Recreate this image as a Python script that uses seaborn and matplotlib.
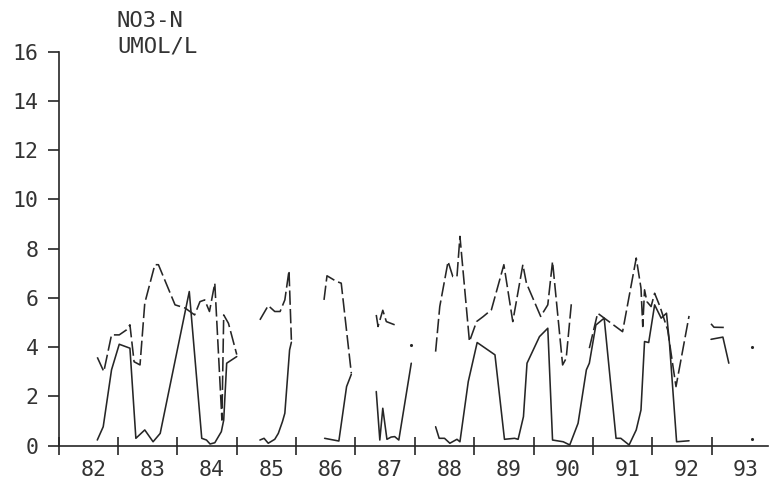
import numpy as np
import pandas as pd
import matplotlib
matplotlib.use("Agg")
import matplotlib.pyplot as plt
import seaborn as sns

nan = np.nan

# Nitrate, solid curve (NaN marks a break in sampling)
solid_year = [
    1982.65, 1982.75, 1982.89, 1983.02, 1983.20, 1983.30, 1983.45, 1983.59, 1983.71,
    1984.20, 1984.41, 1984.49, 1984.55, 1984.63, 1984.74, 1984.78, 1984.83, 1985.00, nan,
    1985.39, 1985.46, 1985.53, 1985.64, 1985.70, 1985.77, 1985.81, 1985.89, 1985.92, nan,
    1986.48, 1986.72, 1986.85, 1986.93, nan,
    1987.35, 1987.41, 1987.46, 1987.53, 1987.60, 1987.66, 1987.73, 1987.94, nan,
    1988.35, 1988.41, 1988.50, 1988.59, 1988.71, 1988.76, 1988.90, 1989.05, 1989.35,
    1989.51, 1989.68, 1989.74, 1989.83, 1989.89, 1990.10, 1990.24, 1990.32, 1990.50,
    1990.61, 1990.75, 1990.89, 1990.94, 1991.05, 1991.19, 1991.39, 1991.47, 1991.61,
    1991.73, 1991.81, 1991.87, 1991.94, 1992.04, 1992.15, 1992.24, 1992.29, 1992.41,
    1992.62, nan,
    1992.99, 1993.19, 1993.29, nan,
    1993.68,
]
solid_no3 = [
    0.23, 0.77, 3.08, 4.12, 3.96, 0.30, 0.64, 0.16, 0.50,
    6.26, 0.30, 0.23, 0.07, 0.12, 0.57, 1.04, 3.35, 3.62, nan,
    0.23, 0.30, 0.10, 0.26, 0.50, 0.98, 1.32, 3.89, 4.20, nan,
    0.30, 0.19, 2.40, 2.90, nan,
    2.20, 0.23, 1.52, 0.26, 0.35, 0.37, 0.23, 3.35, nan,
    0.77, 0.30, 0.30, 0.10, 0.26, 0.16, 2.60, 4.19, 3.69,
    0.26, 0.30, 0.26, 1.18, 3.35, 4.43, 4.77, 0.23, 0.16,
    0.03, 0.91, 3.08, 3.35, 4.90, 5.18, 0.30, 0.30, 0.03,
    0.64, 1.45, 4.23, 4.19, 5.72, 5.18, 5.38, 4.16, 0.16,
    0.20, nan,
    4.32, 4.41, 3.35, nan,
    0.26,
]

# Nitrate, dashed curve
dashed_year = [
    1982.65, 1982.76, 1982.89, 1983.02, 1983.14, 1983.20, 1983.27, 1983.37, 1983.45,
    1983.62, 1983.68, 1983.96, 1984.13, 1984.29, 1984.38, 1984.46, 1984.54, 1984.63,
    1984.75, 1984.78, 1984.86, 1985.00, nan,
    1985.39, 1985.53, 1985.64, 1985.73, 1985.81, 1985.88, 1985.92, nan,
    1986.47, 1986.52, 1986.68, 1986.76, 1986.93, nan,
    1987.35, 1987.38, 1987.46, 1987.52, 1987.66, nan,
    1987.93, nan,
    1988.35, 1988.42, 1988.56, 1988.64, 1988.71, 1988.76, 1988.92, 1989.04, 1989.15,
    1989.29, 1989.50, 1989.65, 1989.82, 1989.88, 1990.12, 1990.24, 1990.32, 1990.49,
    1990.55, 1990.64, nan,
    1990.94, 1991.08, 1991.50, 1991.73, 1991.81, 1991.84, 1991.87, 1991.91, 1991.98,
    1992.04, 1992.13, 1992.26, 1992.35, 1992.40, 1992.62, nan,
    1992.99, 1993.04, 1993.27, nan,
    1993.68,
]
dashed_no3 = [
    3.59, 3.01, 4.50, 4.50, 4.70, 4.91, 3.41, 3.28, 5.79,
    7.35, 7.35, 5.72, 5.59, 5.31, 5.85, 5.92, 5.45, 6.60,
    1.04, 5.31, 4.97, 3.70, nan,
    5.11, 5.69, 5.45, 5.45, 5.92, 7.11, 4.30, nan,
    5.92, 6.90, 6.67, 6.60, 2.94, nan,
    5.31, 4.84, 5.50, 5.04, 4.91, nan,
    4.09, nan,
    3.82, 5.65, 7.48, 6.87, 6.87, 8.50, 4.23, 5.04, 5.24,
    5.52, 7.35, 5.04, 7.35, 6.60, 5.25, 5.72, 7.48, 3.28,
    3.55, 5.85, nan,
    3.96, 5.38, 4.63, 7.62, 6.40, 4.84, 6.33, 5.85, 5.65,
    6.19, 5.65, 4.70, 3.21, 2.40, 5.27, nan,
    4.95, 4.81, 4.80, nan,
    4.00,
]

year_labels = ["82", "83", "84", "85", "86", "87", "88", "89", "90", "91", "92", "93"]
y_ticks = [0, 2, 4, 6, 8, 10, 12, 14, 16]
title_lines = ["NO3-N", "UMOL/L"]


def to_frame(years, values, name):
    df = pd.DataFrame({"year": years, "no3": values})
    gap = df["no3"].isna()
    df["seg"] = gap.cumsum()
    df = df[~gap].copy()
    df["series"] = name
    return df


frames = pd.concat([to_frame(solid_year, solid_no3, "solid"),
                    to_frame(dashed_year, dashed_no3, "dashed")], ignore_index=True)
seg_size = frames.groupby(["series", "seg"])["year"].transform("size")
lines = frames[seg_size > 1]
points = frames[seg_size == 1]

sns.set_style("white")
plt.rcParams["font.family"] = ["DejaVu Sans Mono", "DejaVu Sans"]
ink = "#262626"
text_ink = "#333333"

fig = plt.figure(figsize=(7.7, 4.8), dpi=100)
ax = fig.add_axes([58.7 / 770, 34.3 / 480, (768 - 58.7) / 770, (445.7 - 51.7) / 480])

sns.lineplot(data=lines, x="year", y="no3", units="seg", estimator=None,
             style="series", dashes={"solid": "", "dashed": (9, 2.6)},
             color=ink, linewidth=1.15, sort=False, legend=False, ax=ax)
sns.scatterplot(data=points, x="year", y="no3", color=ink, s=5,
                linewidth=0, legend=False, ax=ax)

ax.set_xlim(1982, 1993.95)
ax.set_ylim(0, 16)
ax.set_xlabel("")
ax.set_ylabel("")

for side in ("top", "right"):
    ax.spines[side].set_visible(False)
for side in ("left", "bottom"):
    ax.spines[side].set_color(ink)
    ax.spines[side].set_linewidth(1.2)

years = list(range(1982, 1994))
ax.set_xticks(years)
ax.set_xticklabels([])
ax.set_xticks([y + 0.58 for y in years], minor=True)
ax.set_xticklabels(year_labels, minor=True)
ax.tick_params(axis="x", which="major", bottom=True, direction="inout", length=13,
               width=1.2, color=ink)
ax.tick_params(axis="x", which="minor", bottom=True, length=0, pad=10,
               labelsize=15.5, labelcolor=text_ink)

ax.set_yticks(y_ticks)
ax.set_yticklabels([str(v) for v in y_ticks])
ax.tick_params(axis="y", left=True, direction="out", length=8, width=1.2, color=ink,
               pad=6.5, labelsize=15.5, labelcolor=text_ink)

fig.text(117 / 770, 1 - 27 / 480, title_lines[0], fontsize=16, color=text_ink,
         va="baseline", ha="left")
fig.text(117 / 770, 1 - 53 / 480, title_lines[1], fontsize=16, color=text_ink,
         va="baseline", ha="left")

fig.savefig("out.png", dpi=100, facecolor="white")
